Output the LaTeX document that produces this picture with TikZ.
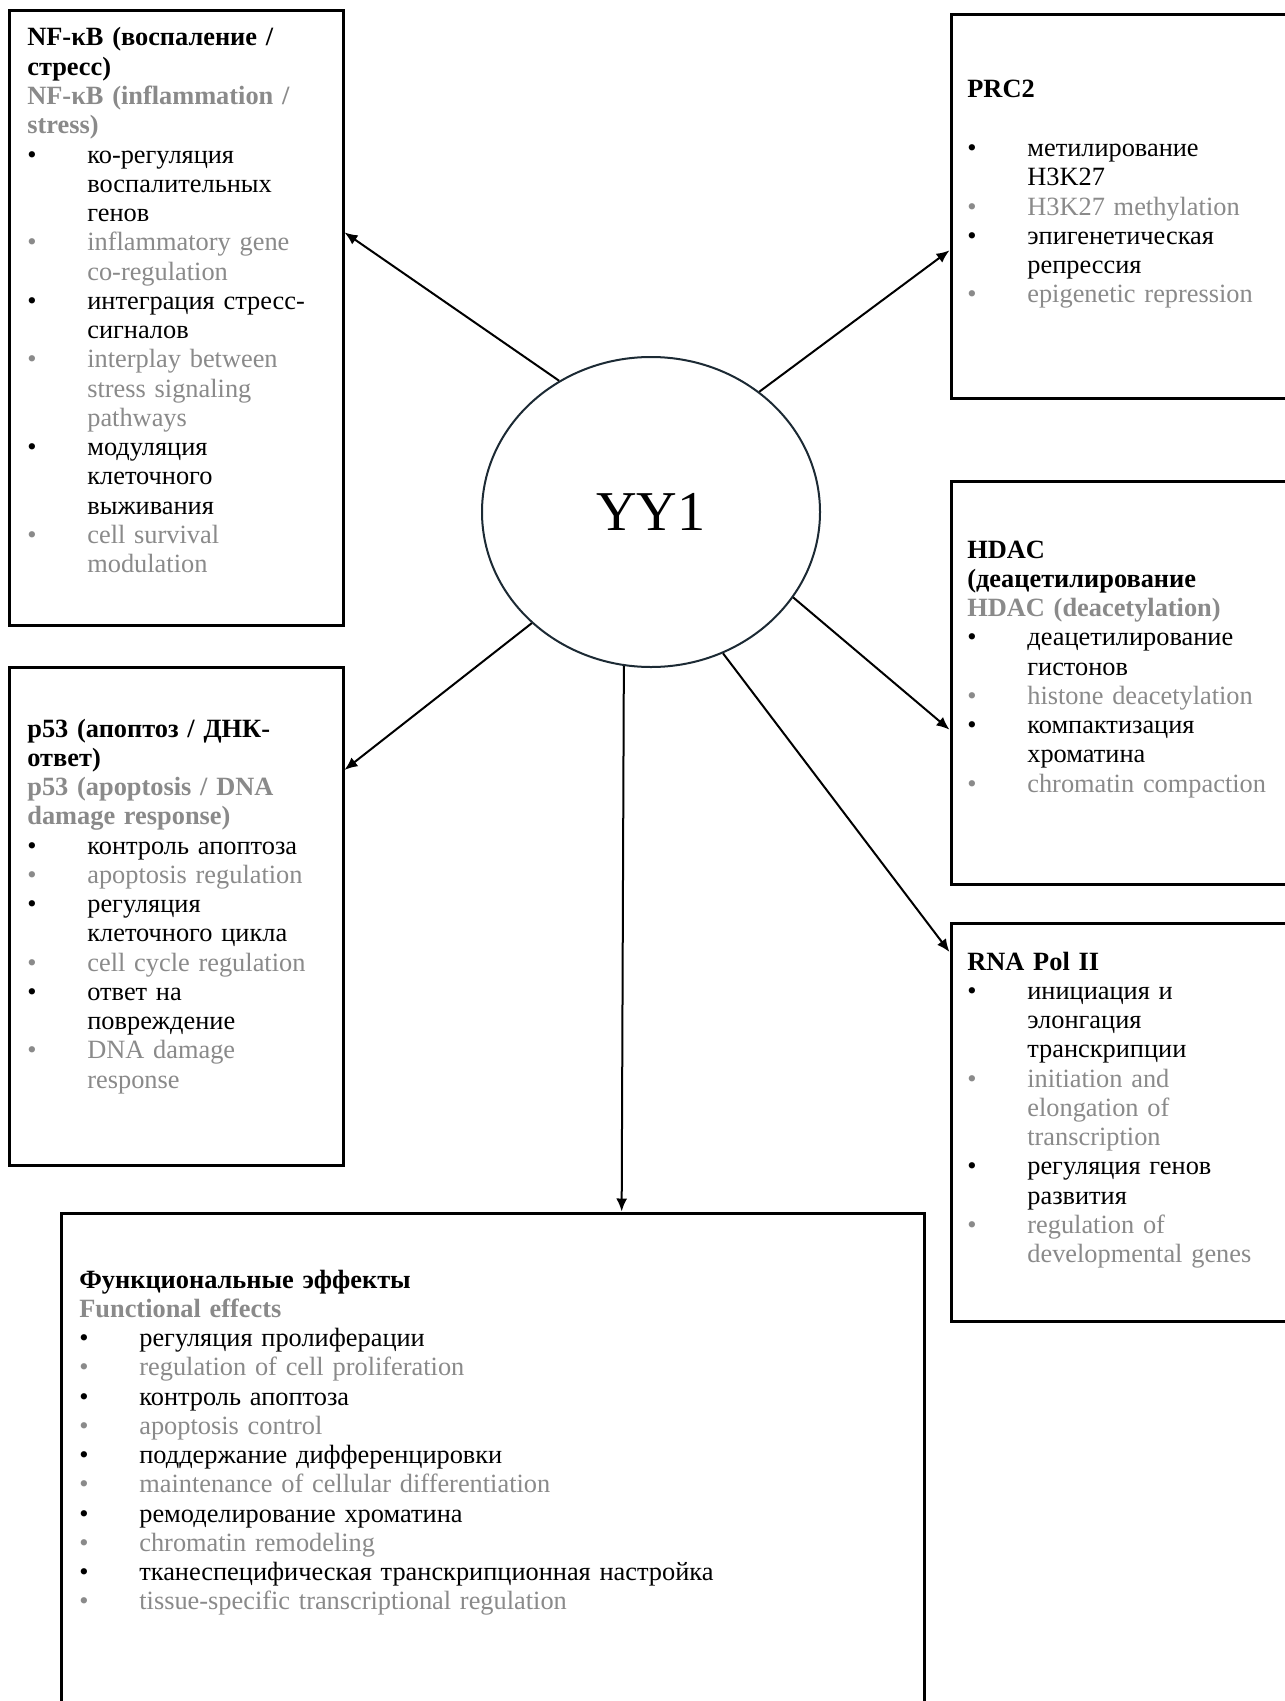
\documentclass[tikz,border=0pt]{standalone}
\usepackage{fontspec}
\setmainfont{Liberation Serif}
\usepackage{tikz}
\usetikzlibrary{shapes.geometric,arrows.meta}
\usepackage{xcolor}
\definecolor{engray}{RGB}{138,138,138}
\definecolor{ringline}{RGB}{28,42,52}

\newlength{\itemind}
\setlength{\itemind}{12mm}
\newcommand{\ruitem}[1]{\par\hangindent=\itemind\hangafter=1\noindent\makebox[\itemind][l]{\textbullet}#1}
\newcommand{\enitem}[1]{\par\hangindent=\itemind\hangafter=1\noindent{\color{engray}\makebox[\itemind][l]{\textbullet}#1}}
\newcommand{\entitle}[1]{{\color{engray}\textbf{#1}}}

\begin{document}
\begin{tikzpicture}
  [x=0.2mm, y=-0.2mm,
   box/.style={rectangle,draw=black,line width=0.6mm,inner sep=0pt},
   hub/.style={ellipse,draw=ringline,line width=0.4mm,inner sep=0pt,
     minimum width=67.6mm,minimum height=62mm,font=\fontsize{32pt}{36pt}\selectfont},
   txt/.style={anchor=base west,inner sep=0pt,text width=78mm,
     font=\fontsize{15pt}{16.65pt}\selectfont},
   arr/.style={-{Latex[length=2.6mm,width=2.2mm]},line width=0.4mm},
  ]
  \clip (0,0) rectangle (1285,1701);
  \fill[white] (0,0) rectangle (1285,1701);

  \node[box, minimum width=66.6mm, minimum height=122.8mm]  (nf)   at (176.5,318)    {};
  \node[box, minimum width=66.6mm, minimum height=99.6mm]   (p53)  at (176.5,916)    {};
  \node[box, minimum width=69.8mm, minimum height=76.6mm]   (prc)  at (1125.5,206.5) {};
  \node[box, minimum width=69.8mm, minimum height=80.6mm]   (hdac) at (1125.5,682.5) {};
  \node[box, minimum width=69.8mm, minimum height=79.6mm]   (rna)  at (1125.5,1122)  {};
  \node[box, minimum width=172.4mm, minimum height=100.4mm] (fx)   at (493,1464)     {};
  \node[hub] (yy) at (651,512) {YY1};

  \node[txt] (nft) at (27,46) {\textbf{NF-κB (воспаление /\newline стресс)}\newline
    \entitle{NF-κB (inflammation /\newline stress)}
    \ruitem{ко-регуляция\newline воспалительных\newline генов}
    \enitem{inflammatory gene\newline co-regulation}
    \ruitem{интеграция стресс-\newline сигналов}
    \enitem{interplay between\newline stress signaling\newline pathways}
    \ruitem{модуляция\newline клеточного\newline выживания}
    \enitem{cell survival\newline modulation}\par};

  \node[txt] (p53t) at (27,737) {\textbf{p53 (апоптоз / ДНК-\newline ответ)}\newline
    \entitle{p53 (apoptosis / DNA\newline damage response)}
    \ruitem{контроль апоптоза}
    \enitem{apoptosis regulation}
    \ruitem{регуляция\newline клеточного цикла}
    \enitem{cell cycle regulation}
    \ruitem{ответ на\newline повреждение}
    \enitem{DNA damage\newline response}\par};

  \node[txt] (prct) at (967,98) {\textbf{PRC2}\par\vspace{\baselineskip}
    \ruitem{метилирование\newline H3K27}
    \enitem{H3K27 methylation}
    \ruitem{эпигенетическая\newline репрессия}
    \enitem{epigenetic repression}\par};

  \node[txt] (hdact) at (967,558) {\textbf{HDAC\newline (деацетилирование}\newline
    \entitle{HDAC (deacetylation)}
    \ruitem{деацетилирование\newline гистонов}
    \enitem{histone deacetylation}
    \ruitem{компактизация\newline хроматина}
    \enitem{chromatin compaction}\par};

  \node[txt] (rnat) at (967,970) {\textbf{RNA Pol II}
    \ruitem{инициация и\newline элонгация\newline транскрипции}
    \enitem{initiation and\newline elongation of\newline transcription}
    \ruitem{регуляция генов\newline развития}
    \enitem{regulation of\newline developmental genes}\par};

  \node[txt, text width=170mm] (fxt) at (79,1288) {\textbf{Функциональные эффекты}\newline
    \entitle{Functional effects}
    \ruitem{регуляция пролиферации}
    \enitem{regulation of cell proliferation}
    \ruitem{контроль апоптоза}
    \enitem{apoptosis control}
    \ruitem{поддержание дифференцировки}
    \enitem{maintenance of cellular differentiation}
    \ruitem{ремоделирование хроматина}
    \enitem{chromatin remodeling}
    \ruitem{тканеспецифическая транскрипционная настройка}
    \enitem{tissue-specific transcriptional regulation}\par};

  \path (yy.125.7) edge[arr] (nf.27)
        (yy.48)    edge[arr] (prc.194.6)
        (yy.223.5) edge[arr] (p53.41.2)
        (yy.329.7) edge[arr] (hdac.195.2)
        (yy.297.7) edge[arr] (rna.136.3)
        (yy.260.1) edge[arr] (fx.63.7);
\end{tikzpicture}
\end{document}
